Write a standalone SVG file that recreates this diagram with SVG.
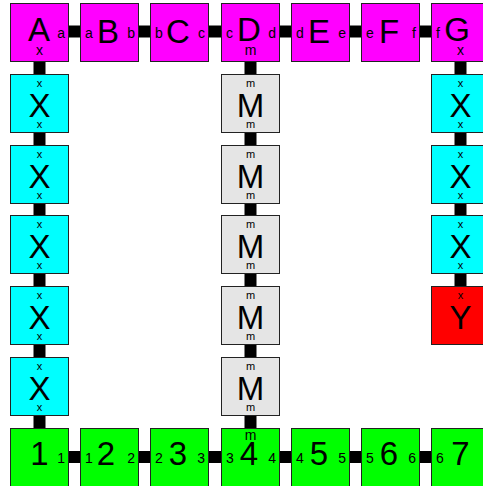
<svg xmlns="http://www.w3.org/2000/svg" width="483" height="486" viewBox="0 0 483 486">
  <style>
    .box { stroke: #222; stroke-width: 1; }
    .mag { fill: #ff00ff; }
    .cyan { fill: #00ffff; }
    .grey { fill: #e5e5e5; }
    .red { fill: #ff0000; }
    .green { fill: #00ff00; }
    text { font-family: "Liberation Sans", Arial, sans-serif; fill: #000; }
    .big { font-size: 33px; text-anchor: middle; }
    .port { font-size: 14px; }
    .vport { font-size: 11px; text-anchor: middle; }
    .mid { text-anchor: middle; }
    .end { text-anchor: end; }
    .edge { stroke: #000; stroke-width: 12; fill: none; }
  </style>

  <!-- connectors -->
  <g id="edges">
    <line class="edge" x1="39.5" y1="31.5" x2="460.5" y2="31.5"/>
    <line class="edge" x1="39.5" y1="457" x2="460.5" y2="457"/>
    <line class="edge" x1="39.5" y1="32" x2="39.5" y2="457"/>
    <line class="edge" x1="250.5" y1="32" x2="250.5" y2="457"/>
    <line class="edge" x1="460.5" y1="32" x2="460.5" y2="315"/>
  </g>

  <!-- top row -->
  <g id="A"><rect class="box mag" x="10.5" y="3.5" width="58" height="58"/>
    <text class="big" x="39" y="41">A</text>
    <text class="port end" x="65" y="37.5">a</text>
    <text class="port mid" x="39.5" y="55">x</text></g>
  <g id="B"><rect class="box mag" x="80.5" y="3.5" width="58" height="58"/>
    <text class="port" x="85" y="37.5">a</text>
    <text class="big" x="108" y="43">B</text>
    <text class="port end" x="135" y="37.5">b</text></g>
  <g id="C"><rect class="box mag" x="150.5" y="3.5" width="58" height="58"/>
    <text class="port" x="155" y="37.5">b</text>
    <text class="big" x="178" y="43">C</text>
    <text class="port end" x="205" y="37.5">c</text></g>
  <g id="D"><rect class="box mag" x="221.5" y="3.5" width="58" height="58"/>
    <text class="port" x="226" y="37.5">c</text>
    <text class="big" x="249" y="41">D</text>
    <text class="port end" x="276" y="37.5">d</text>
    <text class="port mid" x="250.5" y="55">m</text></g>
  <g id="E"><rect class="box mag" x="291.5" y="3.5" width="58" height="58"/>
    <text class="port" x="296" y="37.5">d</text>
    <text class="big" x="319" y="43">E</text>
    <text class="port end" x="346" y="37.5">e</text></g>
  <g id="F"><rect class="box mag" x="361.5" y="3.5" width="58" height="58"/>
    <text class="port" x="366" y="37.5">e</text>
    <text class="big" x="389" y="43">F</text>
    <text class="port end" x="416" y="37.5">f</text></g>
  <g id="G"><rect class="box mag" x="431.5" y="3.5" width="58" height="58"/>
    <text class="port" x="436" y="37.5">f</text>
    <text class="big" x="457" y="41">G</text>
    <text class="port mid" x="460.5" y="55">x</text></g>

  <!-- left column -->
  <g id="X1"><rect class="box cyan" x="10.5" y="74.5" width="58" height="58"/>
    <text class="vport" x="39.5" y="86.5">x</text><text class="big" x="39.5" y="116.5">X</text><text class="vport" x="39.5" y="127.5">x</text></g>
  <g id="X2"><rect class="box cyan" x="10.5" y="145.5" width="58" height="58"/>
    <text class="vport" x="39.5" y="157.5">x</text><text class="big" x="39.5" y="187.5">X</text><text class="vport" x="39.5" y="198.5">x</text></g>
  <g id="X3"><rect class="box cyan" x="10.5" y="215.5" width="58" height="58"/>
    <text class="vport" x="39.5" y="227.5">x</text><text class="big" x="39.5" y="257.5">X</text><text class="vport" x="39.5" y="268.5">x</text></g>
  <g id="X4"><rect class="box cyan" x="10.5" y="286.5" width="58" height="58"/>
    <text class="vport" x="39.5" y="298.5">x</text><text class="big" x="39.5" y="328.5">X</text><text class="vport" x="39.5" y="339.5">x</text></g>
  <g id="X5"><rect class="box cyan" x="10.5" y="357.5" width="58" height="58"/>
    <text class="vport" x="39.5" y="369.5">x</text><text class="big" x="39.5" y="399.5">X</text><text class="vport" x="39.5" y="410.5">x</text></g>

  <!-- middle column -->
  <g id="M1"><rect class="box grey" x="221.5" y="74.5" width="58" height="58"/>
    <text class="vport" x="250.5" y="86.5">m</text><text class="big" x="250.5" y="116.5">M</text><text class="vport" x="250.5" y="127.5">m</text></g>
  <g id="M2"><rect class="box grey" x="221.5" y="145.5" width="58" height="58"/>
    <text class="vport" x="250.5" y="157.5">m</text><text class="big" x="250.5" y="187.5">M</text><text class="vport" x="250.5" y="198.5">m</text></g>
  <g id="M3"><rect class="box grey" x="221.5" y="215.5" width="58" height="58"/>
    <text class="vport" x="250.5" y="227.5">m</text><text class="big" x="250.5" y="257.5">M</text><text class="vport" x="250.5" y="268.5">m</text></g>
  <g id="M4"><rect class="box grey" x="221.5" y="286.5" width="58" height="58"/>
    <text class="vport" x="250.5" y="298.5">m</text><text class="big" x="250.5" y="328.5">M</text><text class="vport" x="250.5" y="339.5">m</text></g>
  <g id="M5"><rect class="box grey" x="221.5" y="357.5" width="58" height="58"/>
    <text class="vport" x="250.5" y="369.5">m</text><text class="big" x="250.5" y="399.5">M</text><text class="vport" x="250.5" y="410.5">m</text></g>

  <!-- right column -->
  <g id="X6"><rect class="box cyan" x="431.5" y="74.5" width="58" height="58"/>
    <text class="vport" x="460.5" y="86.5">x</text><text class="big" x="460.5" y="116.5">X</text><text class="vport" x="460.5" y="127.5">x</text></g>
  <g id="X7"><rect class="box cyan" x="431.5" y="145.5" width="58" height="58"/>
    <text class="vport" x="460.5" y="157.5">x</text><text class="big" x="460.5" y="187.5">X</text><text class="vport" x="460.5" y="198.5">x</text></g>
  <g id="X8"><rect class="box cyan" x="431.5" y="215.5" width="58" height="58"/>
    <text class="vport" x="460.5" y="227.5">x</text><text class="big" x="460.5" y="257.5">X</text><text class="vport" x="460.5" y="268.5">x</text></g>
  <g id="Y"><rect class="box red" x="431.5" y="286.5" width="58" height="58"/>
    <text class="vport" x="460.5" y="299">x</text><text class="big" x="460.5" y="329">Y</text></g>

  <!-- bottom row -->
  <g id="N1"><rect class="box green" x="10.5" y="428.5" width="58" height="58"/>
    <text class="big" x="39.5" y="465">1</text>
    <text class="port end" x="65" y="463">1</text></g>
  <g id="N2"><rect class="box green" x="80.5" y="428.5" width="58" height="58"/>
    <text class="port" x="85" y="463">1</text>
    <text class="big" x="106" y="465">2</text>
    <text class="port end" x="135" y="463">2</text></g>
  <g id="N3"><rect class="box green" x="150.5" y="428.5" width="58" height="58"/>
    <text class="port" x="155" y="463">2</text>
    <text class="big" x="178" y="465">3</text>
    <text class="port end" x="205" y="463">3</text></g>
  <g id="N4"><rect class="box green" x="221.5" y="428.5" width="58" height="58"/>
    <text class="port" x="226" y="463">3</text>
    <text class="port mid" x="250.5" y="440">m</text>
    <text class="big" x="249" y="465">4</text>
    <text class="port end" x="276" y="463">4</text></g>
  <g id="N5"><rect class="box green" x="291.5" y="428.5" width="58" height="58"/>
    <text class="port" x="296" y="463">4</text>
    <text class="big" x="319" y="465">5</text>
    <text class="port end" x="346" y="463">5</text></g>
  <g id="N6"><rect class="box green" x="361.5" y="428.5" width="58" height="58"/>
    <text class="port" x="366" y="463">5</text>
    <text class="big" x="389" y="465">6</text>
    <text class="port end" x="416" y="463">6</text></g>
  <g id="N7"><rect class="box green" x="431.5" y="428.5" width="58" height="58"/>
    <text class="port" x="436" y="463">6</text>
    <text class="big" x="460.5" y="465">7</text></g>
</svg>
